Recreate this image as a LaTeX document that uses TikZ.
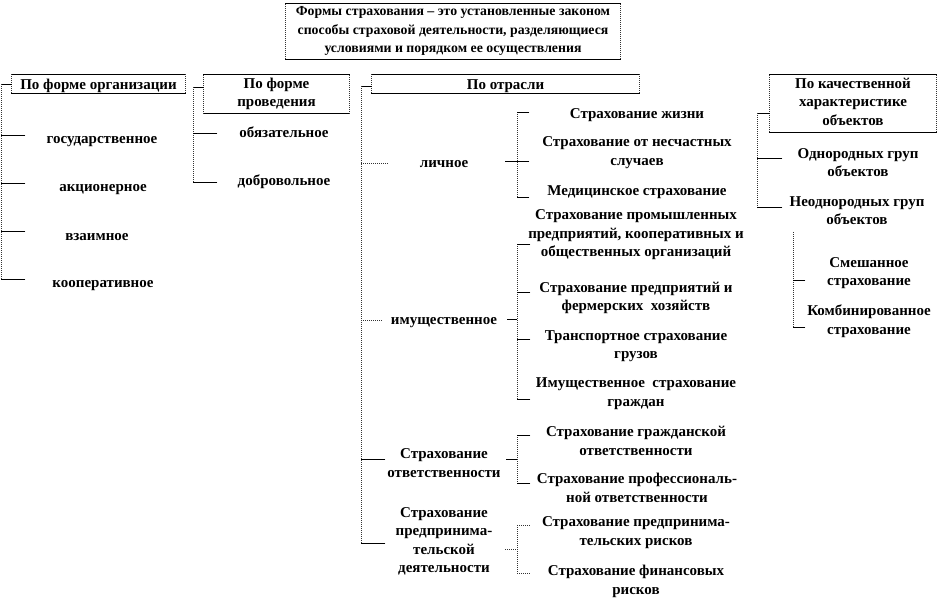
\documentclass[tikz,border=0pt]{standalone}
\usepackage{fontspec}
\setmainfont{Liberation Serif}
\tikzset{
  txt/.style={font=\fontsize{15}{18.5}\selectfont\bfseries, align=center, inner sep=0pt,
    execute at begin node={\rule[-3.7pt]{0pt}{16pt}},
    execute at end node={\rule[-3.7pt]{0pt}{16pt}}},
  frm/.style={txt,
    execute at begin node={\rule[-2.5pt]{0pt}{18pt}},
    execute at end node={\rule[-2.5pt]{0pt}{18pt}}},
  ttl/.style={frm, font=\fontsize{13.8}{18.5}\selectfont\bfseries},
  sl/.style={line width=0.9pt, line cap=rect},
  dl/.style={line width=1pt, dash pattern=on 1pt off 1pt, black!80},
}
\begin{document}
\begin{tikzpicture}[x=1pt,y=-1pt]
\useasboundingbox (0,0) rectangle (940,602);
% ---------- frames ----------
\node[ttl, minimum width=334pt, minimum height=55pt] (title) at (453,31.5)
  {Формы страхования – это установленные законом\\способы страховой деятельности, разделяющиеся\\условиями и порядком ее осуществления};
\node[frm, minimum width=173pt, minimum height=18pt] (b1) at (98.5,84) {По форме организации};
\node[frm, minimum width=145pt, minimum height=38pt] (b2) at (276.5,94) {По форме\\проведения};
\node[frm, minimum width=267pt, minimum height=18pt] (b3) at (505.5,84) {По отрасли};
\node[frm, minimum width=166pt, minimum height=57pt] (b4) at (853,103.5) {По качественной\\характеристике\\объектов};
\foreach \n in {title,b1,b2,b3,b4}{
  \draw[sl] (\n.north west) -- (\n.north east) (\n.south west) -- (\n.south east);
  \draw[dl] (\n.north west) -- (\n.south west) (\n.north east) -- (\n.south east);
}
% ---------- texts ----------
\node[txt] (g1) at (102,139) {государственное};
\node[txt] (g2) at (103,187) {акционерное};
\node[txt] (g3) at (97,236) {взаимное};
\node[txt] (g4) at (103,283) {кооперативное};
\node[txt] (p1) at (284,133) {обязательное};
\node[txt] (p2) at (284,181) {добровольное};
\node[txt] (o1) at (444,163) {личное};
\node[txt] (o2) at (444,320) {имущественное};
\node[txt] (o3) at (444,465) {Страхование\\ответственности};
\node[txt] (o4) at (444,542) {Страхование\\предпринима-\\тельской\\деятельности};
\node[txt] (l1) at (637,114) {Страхование жизни};
\node[txt] (l2) at (637,153) {Страхование от несчастных\\случаев};
\node[txt] (l3) at (637,191) {Медицинское страхование};
\node[txt] (m1) at (636,235) {Страхование промышленных\\предприятий, кооперативных и\\общественных организаций};
\node[txt] (m2) at (636,298) {Страхование предприятий и\\фермерских\ \ хозяйств};
\node[txt] (m3) at (636,346.5) {Транспортное страхование\\грузов};
\node[txt] (m4) at (636,394) {Имущественное\ \ страхование\\граждан};
\node[txt] (r1) at (636,442.5) {Страхование гражданской\\ответственности};
\node[txt] (r2) at (637,489.5) {Страхование профессиональ-\\ной ответственности};
\node[txt] (e1) at (636,533) {Страхование предпринима-\\тельских рисков};
\node[txt] (e2) at (636,581.5) {Страхование финансовых\\рисков};
\node[txt] (q1) at (858,164.5) {Однородных груп\\объектов};
\node[txt] (q2) at (857,212.5) {Неоднородных груп\\объектов};
\node[txt] (s1) at (869,273.5) {Смешанное\\страхование};
\node[txt] (s2) at (869,321.5) {Комбинированное\\страхование};
% ---------- group 1 ----------
\coordinate (a0) at (1.5,84);
\coordinate (a4) at (1.5,279);
\draw[sl] (a0) -- (b1.west);
\draw[dl] (a0) -- (a4);
\foreach \y in {135,183,231,279}{ \draw[sl] (1.5,\y) -- (25,\y); }
% ---------- group 2 ----------
\coordinate (c0) at (193,87);
\coordinate (c2) at (193,182);
\draw[sl] (c0) -- (b2.west |- c0);
\draw[dl] (c0) -- (c2);
\foreach \y in {133,182}{ \draw[sl] (193,\y) -- (217,\y); }
% ---------- group 3 ----------
\coordinate (d0) at (361,86);
\coordinate (d4) at (361,543);
\draw[sl] (d0) -- (b3.west |- d0);
\draw[dl] (d0) -- (d4);
\draw[dl] (361,163) -- (388,163);
\draw[dl] (361,320) -- (383,320);
\draw[sl] (361,459) -- (385,459);
\draw[sl] (361,543) -- (385,543);
% личное
\draw[sl] (505,161) -- (529,161);
\draw[dl] (517,112) -- (517,197);
\foreach \y in {112,197}{ \draw[sl] (517,\y) -- (529,\y); }
% имущественное
\draw[sl] (507,319) -- (517,319);
\draw[dl] (517,244) -- (517,399);
\foreach \y in {244,292,339,399}{ \draw[sl] (517,\y) -- (530,\y); }
% ответственность
\draw[sl] (506,459) -- (517,459);
\draw[dl] (517,435) -- (517,483);
\foreach \y in {435,483}{ \draw[sl] (517,\y) -- (530,\y); }
% предпринимательская
\draw[dl] (505,549) -- (517,549);
\draw[dl] (517,525) -- (517,573);
\foreach \y in {525,573}{ \draw[dl] (517,\y) -- (530,\y); }
% ---------- group 4 ----------
\coordinate (f0) at (757,113);
\coordinate (f2) at (757,207);
\draw[sl] (f0) -- (b4.west |- f0);
\draw[dl] (f0) -- (f2);
\foreach \y in {158,207}{ \draw[sl] (757,\y) -- (782,\y); }
\draw[dl] (793,232) -- (793,327);
\foreach \y in {280,327}{ \draw[sl] (793,\y) -- (805,\y); }
\end{tikzpicture}
\end{document}
